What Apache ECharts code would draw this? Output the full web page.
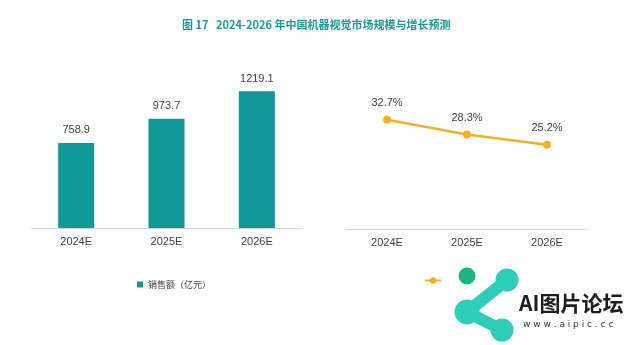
<!DOCTYPE html>
<html><head><meta charset="utf-8">
<script src="https://cdn.jsdelivr.net/npm/echarts@6/dist/echarts.min.js"></script>
<style>html,body{margin:0;padding:0;background:#fff}#c{width:640px;height:345px}</style>
</head><body><div id="c"></div>
<script>
const titleText = '图 17   2024-2026 年中国机器视觉市场规模与增长预测';
const categories = ['2024E', '2025E', '2026E'];
const salesName = '销售额（亿元）';
const salesValues = [758.9, 973.7, 1219.1];
const growthName = '增长率';
const growthValues = [32.7, 28.3, 25.2];

const teal = '#0E9896';
const orange = '#F2B02A';
const numFont = 'Liberation Sans, Arial, sans-serif';
const cjkFont = '"Noto Sans CJK SC", sans-serif';

const chart = echarts.init(document.getElementById('c'), null, {renderer: 'canvas'});
chart.setOption({
  animation: false,
  backgroundColor: '#fff',
  title: {
    text: titleText, left: 182, top: 19, padding: 0,
    textStyle: {color: '#1A9A98', fontSize: 11, fontWeight: 'bold', fontFamily: cjkFont}
  },
  legend: [
    {data: [salesName], left: 137, top: 280, padding: 0, icon: 'rect', itemWidth: 6, itemHeight: 6, itemGap: 3,
     textStyle: {fontSize: 9, color: '#404040', fontFamily: cjkFont}},
    {data: [growthName], left: 424, top: 276, padding: 0, itemWidth: 16, itemHeight: 8,
     textStyle: {fontSize: 9, color: '#404040', fontFamily: cjkFont}}
  ],
  grid: [
    {left: 31, right: 338, top: 71, bottom: 117},
    {left: 347, right: 53, top: 62, bottom: 116}
  ],
  xAxis: [
    {type: 'category', gridIndex: 0, data: categories,
     axisLine: {lineStyle: {color: '#D9D9D9', width: 1}}, axisTick: {show: false},
     axisLabel: {color: '#404040', fontSize: 11, fontFamily: numFont, margin: 8}},
    {type: 'category', gridIndex: 1, data: categories,
     axisLine: {lineStyle: {color: '#D9D9D9', width: 1}}, axisTick: {show: false},
     axisLabel: {color: '#404040', fontSize: 11, fontFamily: numFont, margin: 8}}
  ],
  yAxis: [
    {type: 'value', gridIndex: 0, min: 0, max: 1400, show: false, splitLine: {show: false}},
    {type: 'value', gridIndex: 1, min: 0, max: 50, show: false, splitLine: {show: false}}
  ],
  series: [
    {name: salesName, type: 'bar', xAxisIndex: 0, yAxisIndex: 0, data: salesValues,
     barWidth: 36, itemStyle: {color: teal},
     label: {show: true, position: 'top', distance: 7, color: '#404040', fontSize: 11, fontFamily: numFont}},
    {name: growthName, type: 'line', xAxisIndex: 1, yAxisIndex: 1, data: growthValues,
     symbol: 'circle', symbolSize: 8, lineStyle: {color: orange, width: 2.5},
     itemStyle: {color: orange},
     label: {show: true, position: 'top', distance: 7, color: '#404040', fontSize: 11, fontFamily: numFont,
       formatter: p => p.value.toFixed(1) + '%'}}
  ],
  graphic: [
    {type: 'rect', shape: {x: 444, y: 262, width: 196, height: 83}, style: {fill: '#fff'}, z: 100},
    {type: 'polyline', shape: {points: [[507, 280], [467, 312], [502, 330]]},
     style: {stroke: '#2ECDB7', lineWidth: 12, lineCap: 'round', lineJoin: 'round', fill: null}, z: 101},
    {type: 'circle', shape: {cx: 507, cy: 280, r: 11.5}, style: {fill: '#2ECDB7'}, z: 101},
    {type: 'circle', shape: {cx: 467, cy: 312, r: 12.5}, style: {fill: '#2ECDB7'}, z: 101},
    {type: 'circle', shape: {cx: 502, cy: 330, r: 11.5}, style: {fill: '#2ECDB7'}, z: 101},
    {type: 'circle', shape: {cx: 467, cy: 276, r: 8.5}, style: {fill: '#1DB67C'}, z: 101},
    {type: 'text', x: 519, y: 303, style: {text: 'AI图片论坛', fill: '#1E1E1E', font: 'bold 21px "Noto Sans CJK SC", sans-serif', textVerticalAlign: 'middle'}, z: 101},
    {type: 'text', x: 523, y: 325, style: {text: 'w w w . a i p i c . c c', fill: '#333', font: '9px "DejaVu Sans", sans-serif', textVerticalAlign: 'middle'}, z: 101}
  ]
});
</script>
</body></html>
